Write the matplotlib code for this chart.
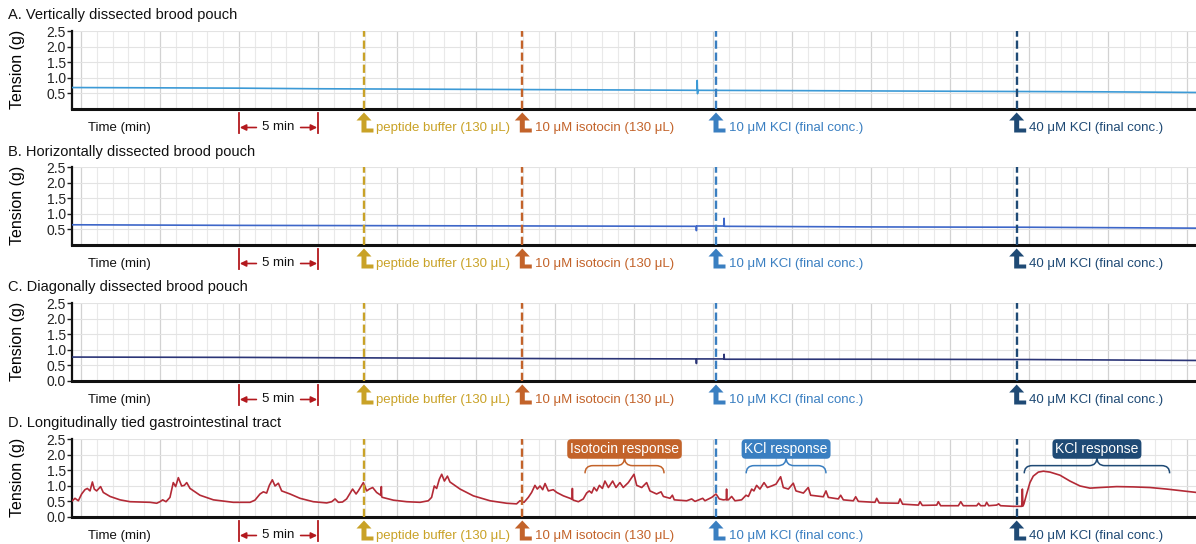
import numpy as np
import matplotlib
matplotlib.use("Agg")
import matplotlib.pyplot as plt
import matplotlib.transforms as mtransforms
from matplotlib.patches import Polygon, PathPatch
from matplotlib.path import Path

plt.rcParams['font.family'] = ['Liberation Sans', 'DejaVu Sans']

# ---------------- data ----------------
panel_titles = ["A. Vertically dissected brood pouch",
                "B. Horizontally dissected brood pouch",
                "C. Diagonally dissected brood pouch",
                "D. Longitudinally tied gastrointestinal tract"]
trace_colors = ["#3C9AD6", "#3D66C8", "#2B3577", "#B32A36"]
yticks_ab = [0.5, 1.0, 1.5, 2.0, 2.5]
yticks_cd = [0.0, 0.5, 1.0, 1.5, 2.0, 2.5]
ytick_sets = [yticks_ab, yticks_ab, yticks_cd, yticks_cd]

tA = [-0.6, 5, 10, 15, 20, 25, 30, 35, 38.98, 39.0, 39.02, 39.05, 45, 50, 55, 60, 65, 70.6]
vA = [0.68, 0.67, 0.66, 0.64, 0.63, 0.62, 0.61, 0.60, 0.59, 0.91, 0.48, 0.59, 0.58, 0.57, 0.56, 0.55, 0.54, 0.52]

tB = [-0.6, 10, 20, 30, 38.93, 38.95, 38.97, 40.0, 40.68, 40.70, 40.72, 50, 60, 70.6]
vB = [0.64, 0.62, 0.61, 0.60, 0.59, 0.45, 0.60, 0.60, 0.60, 0.85, 0.59, 0.57, 0.56, 0.53]

tC = [-0.6, 10, 20, 30, 38.93, 38.95, 38.97, 40.0, 40.68, 40.70, 40.72, 50, 60, 70.6]
vC = [0.76, 0.75, 0.73, 0.71, 0.70, 0.55, 0.70, 0.70, 0.70, 0.85, 0.69, 0.69, 0.68, 0.65]

tD = [-0.55, -0.38, -0.17, 0.04, 0.25, 0.40, 0.57, 0.72, 0.84, 0.99, 1.24, 1.41, 1.84, 2.47,
      3.10, 4.37, 4.79, 5.00, 5.17, 5.38, 5.63, 5.84, 5.99, 6.16, 6.37, 6.54, 6.69, 6.90, 7.53,
      8.38, 9.64, 10.70, 11.01, 11.33, 11.54, 11.75, 11.92, 12.11, 12.28, 12.49, 12.70, 13.23,
      13.86, 14.70, 15.55, 15.87, 16.08, 16.29, 16.55,
      16.81, 17.19, 17.41, 17.55, 17.87, 18.08, 18.25, 18.46, 18.71, 18.97, 19.01, 19.03, 19.08,
      19.77, 20.61, 21.46, 21.98, 22.19, 22.36, 22.51, 22.68, 22.83, 23.00, 23.19, 23.35, 23.99,
      24.83, 25.89, 26.94, 27.57, 27.78, 28.04, 28.31, 28.52, 28.73, 28.88, 29.05, 29.22, 29.37,
      29.58, 29.89, 30.11, 30.53, 30.95, 31.08, 31.10, 31.12, 31.16, 31.48, 31.79, 32.00, 32.17,
      32.32, 32.47, 32.64, 32.81, 33.00, 33.16, 33.38, 33.65, 33.86, 34.11, 34.32, 34.64, 35.00,
      35.17, 35.49, 35.80, 36.01, 36.43, 36.71, 36.86, 37.28, 37.43, 37.55, 38.33, 38.65, 38.86,
      39.35, 39.49, 39.92, 40.19, 40.40, 40.65, 40.84, 40.86, 40.88, 40.97, 41.18, 41.39, 41.81,
      42.09, 42.24, 42.45, 42.59, 42.76, 42.97, 43.23, 43.44, 43.71, 43.99, 44.28, 44.45, 44.77,
      45.08, 45.25, 45.72, 46.03, 46.18, 46.98, 47.15, 47.30, 47.93, 48.08, 48.25, 48.88, 49.03,
      49.20, 50.25, 50.36, 50.52, 51.73, 51.84, 52.00, 53.00, 53.10, 53.25, 54.16, 54.26, 54.41,
      55.53, 55.68, 55.84, 56.69, 56.81, 56.94, 57.22, 57.32, 57.45, 57.95, 58.08, 58.20, 59.01,
      59.54, 59.58, 59.62, 59.68, 59.85, 60.06, 60.27, 60.59, 60.91, 61.33, 61.96, 62.59, 63.23,
      63.86, 64.49, 65.55, 66.60, 67.66, 68.71, 69.77, 70.6]
vD = [0.51, 0.59, 0.51, 0.73, 0.87, 0.91, 0.83, 1.12, 0.89, 0.83, 0.97, 0.78, 0.65, 0.54,
      0.48, 0.46, 0.43, 0.48, 0.54, 0.48, 0.62, 1.10, 0.97, 1.26, 0.99, 1.01, 1.10, 0.91, 0.69,
      0.54, 0.46, 0.46, 0.53, 0.73, 0.80, 0.76, 1.01, 1.19, 0.99, 1.08, 0.83, 0.73,
      0.59, 0.48, 0.44, 0.48, 0.57, 0.46, 0.47,
      0.57, 0.89, 0.73, 0.83, 1.10, 0.83, 0.89, 0.94, 0.78, 0.69, 0.97, 0.64, 0.62,
      0.53, 0.48, 0.46, 0.51, 0.62, 0.99, 0.91, 1.21, 1.37, 1.15, 1.31, 1.12, 0.89,
      0.67, 0.51, 0.43, 0.41, 0.51, 0.46, 0.62, 0.78, 1.01, 0.89, 0.99, 0.87, 1.07,
      0.83, 0.87, 0.78, 0.67, 0.59, 0.56, 0.91, 0.55, 0.53, 0.48, 0.57, 0.76, 0.83,
      0.76, 0.94, 0.83, 1.01, 0.91, 1.15, 0.94, 1.15, 0.94, 1.10, 0.94, 1.10, 1.37,
      1.01, 0.94, 1.10, 0.83, 0.73, 0.80, 0.65, 0.59, 0.69, 0.54, 0.51, 0.57, 0.49,
      0.59, 0.51, 0.62, 0.73, 0.57, 0.54, 0.55, 0.89, 0.54, 0.54, 0.65, 0.51, 0.54,
      0.69, 0.65, 0.89, 0.83, 1.01, 0.89, 1.10, 0.94, 0.99, 1.05, 1.29, 0.94, 0.89,
      1.08, 0.83, 0.76, 0.94, 0.69, 0.64, 0.83, 0.62, 0.57, 0.69, 0.54, 0.51, 0.64,
      0.49, 0.46, 0.59, 0.44, 0.43, 0.57, 0.40, 0.37, 0.48, 0.36, 0.37, 0.48, 0.35,
      0.35, 0.48, 0.35, 0.35, 0.43, 0.35, 0.35, 0.46, 0.35, 0.37, 0.41, 0.35, 0.33,
      0.33, 0.89, 0.34, 0.41, 0.73, 1.10, 1.31, 1.44, 1.47, 1.44, 1.34, 1.15, 0.99,
      0.92, 0.94, 0.97, 0.96, 0.94, 0.89, 0.83, 0.78]

traces_t = [tA, tB, tC, tD]
traces_v = [vA, vB, vC, vD]

event_times = [17.91, 27.93, 40.19, 59.22]
event_labels = ["peptide buffer (130 μL)", "10 μM isotocin (130 μL)",
                "10 μM KCl (final conc.)", "40 μM KCl (final conc.)"]
event_colors = ["#C9A227", "#C3632A", "#3A7FC1", "#1F4A75"]

resp_labels = ["Isotocin response", "KCl response", "KCl response"]
resp_start = [31.9, 42.1, 59.7]
resp_end = [36.9, 47.15, 68.9]
resp_colors = ["#C3632A", "#3A7FC1", "#1F4A75"]

scale_start, scale_end = 10.0, 15.0
scale_color = "#B3191E"

# ---------------- layout ----------------
W, H = 1196, 544
fig = plt.figure(figsize=(W / 100, H / 100), dpi=100)
left_px, width_px, height_px = 72, 1124, 78
bottoms_px = [108.5, 244.5, 380.5, 516.5]
xlim = (-0.57, 70.57)
ylim = (0, 2.53)

def brace(ax, x0, x1, y_end, y_h, y_tip, r, color):
    xm = 0.5 * (x0 + x1)
    verts = [(x0, y_end), (x0, y_h), (x0 + r, y_h),
             (xm - r, y_h), (xm, y_h), (xm, y_tip),
             (xm, y_h), (xm + r, y_h),
             (x1 - r, y_h), (x1, y_h), (x1, y_end)]
    codes = [Path.MOVETO, Path.CURVE3, Path.CURVE3,
             Path.LINETO, Path.CURVE3, Path.CURVE3,
             Path.CURVE3, Path.CURVE3,
             Path.LINETO, Path.CURVE3, Path.CURVE3]
    ax.add_patch(PathPatch(Path(verts, codes), fill=False, edgecolor=color, lw=1.1,
                           clip_on=False, zorder=5))

icon_shape = [(-2.5, 0), (9.5, 0), (9.5, 4), (2.5, 4), (2.5, 12), (7.5, 12),
              (0, 20), (-7.5, 12), (-2.5, 12)]

for i in range(4):
    b = bottoms_px[i]
    ax = fig.add_axes([left_px / W, 1 - b / H, width_px / W, height_px / H])
    ax.set_xlim(*xlim)
    ax.set_ylim(*ylim)
    ax.set_xticks(np.arange(0, 71, 5))
    ax.set_xticks(np.arange(0, 71, 1), minor=True)
    ax.set_yticks(ytick_sets[i])
    ax.set_yticklabels([f"{v:.1f}" for v in ytick_sets[i]])
    ax.tick_params(axis='x', which='both', length=0, labelbottom=False)
    ax.tick_params(axis='y', length=3.5, width=1, labelsize=10, pad=1, colors='#222222')
    ax.grid(which='minor', axis='x', color='#e9e9e9', lw=0.8)
    ax.grid(which='major', axis='x', color='#d2d2d2', lw=0.9)
    ax.grid(which='major', axis='y', color='#e3e3e3', lw=0.8)
    ax.set_axisbelow(True)
    for s in ['top', 'right']:
        ax.spines[s].set_visible(False)
    ax.spines['left'].set_linewidth(1.6)
    ax.spines['bottom'].set_linewidth(2.2)
    ax.spines['left'].set_color('#111111')
    ax.spines['bottom'].set_color('#111111')
    ax.set_ylabel("Tension (g)", fontsize=11.5)
    ax.yaxis.set_label_coords(-47 / width_px, 0.5)

    ax.plot(traces_t[i], traces_v[i], color=trace_colors[i], lw=1.2, zorder=3)

    for t, c in zip(event_times, event_colors):
        ax.axvline(t, color=c, lw=1.7, dashes=(3.5, 1.6), zorder=4)

    fig.text(8 / W, 1 - (b - height_px - 15) / H, panel_titles[i], fontsize=10.5,
             va='center', ha='left', color='#111111')

    base = mtransforms.blended_transform_factory(ax.transData, ax.transAxes)
    y_row = -19 / height_px
    ax.text(0.44, y_row, "Time (min)", transform=base, fontsize=9.5, va='center',
            ha='left', color='#111111', clip_on=False)

    # 5 min scale bar
    for t in (scale_start, scale_end):
        ax.plot([t, t], [-4 / height_px, -24 / height_px], transform=base, color=scale_color,
                lw=1.3, clip_on=False)
    ax.text(0.5 * (scale_start + scale_end), y_row, "5 min", transform=base, fontsize=9.5,
            va='center', ha='center', color='#111111', clip_on=False)
    ax.annotate('', xy=(scale_start + 0.05, y_row), xytext=(scale_start + 1.1, y_row),
                xycoords=base, arrowprops=dict(arrowstyle='-|>', color=scale_color, lw=1.2,
                                               shrinkA=0, shrinkB=0, mutation_scale=9))
    ax.annotate('', xy=(scale_end - 0.05, y_row), xytext=(scale_end - 1.1, y_row),
                xycoords=base, arrowprops=dict(arrowstyle='-|>', color=scale_color, lw=1.2,
                                               shrinkA=0, shrinkB=0, mutation_scale=9))

    # event icons and labels
    for t, lab, c in zip(event_times, event_labels, event_colors):
        tr = mtransforms.Affine2D() + mtransforms.ScaledTranslation(t, -24 / height_px, base)
        ax.add_patch(Polygon(icon_shape, closed=True, transform=tr, facecolor=c,
                             edgecolor='none', clip_on=False, zorder=6))
        ax.annotate(lab, xy=(t, y_row), xycoords=base, xytext=(9, 0),
                    textcoords='offset points', fontsize=9.5, color=c, va='center',
                    ha='left', annotation_clip=False)

    if i == 3:
        for lab, s, e, c in zip(resp_labels, resp_start, resp_end, resp_colors):
            xm = 0.5 * (s + e)
            brace(ax, s, e, 1.40, 1.65, 1.92, 0.5, c)
            ax.text(xm, 2.19, lab, fontsize=10, color='white', ha='center', va='center',
                    zorder=7, bbox=dict(boxstyle='round,pad=0.2,rounding_size=0.3',
                                        facecolor=c, edgecolor='none'))

fig.savefig("out.png", dpi=100)
